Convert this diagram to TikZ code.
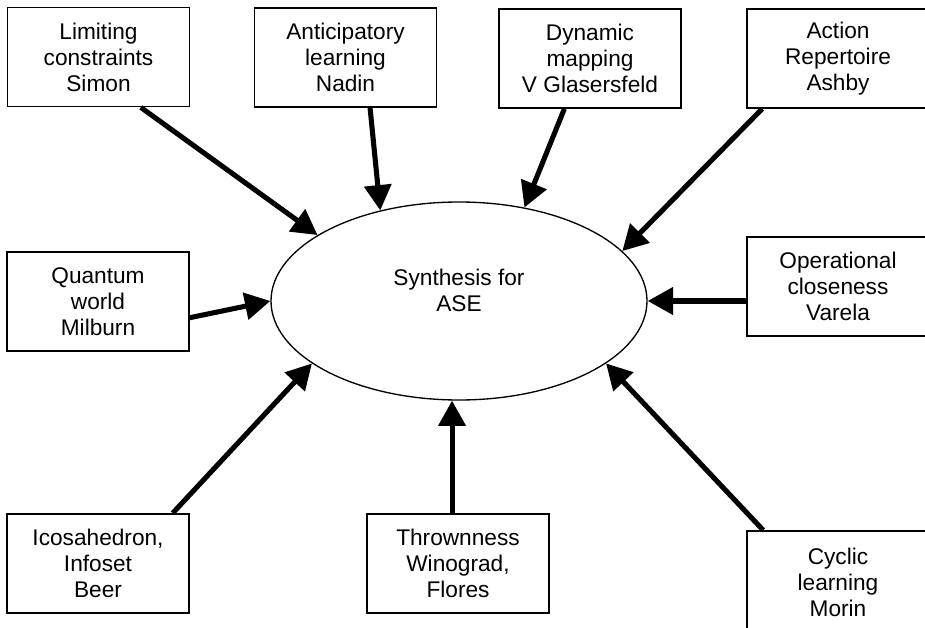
\documentclass[tikz,border=0pt]{standalone}
\usepackage{fontspec}
\setmainfont{Liberation Sans}
\usetikzlibrary{arrows.meta,shapes.geometric}

\begin{document}
\begin{tikzpicture}[x=0.75pt,y=0.75pt,yscale=-1,xscale=1,
    box/.style={draw,line width=1.3pt,minimum width=136.5pt,minimum height=74.25pt,inner sep=0.75pt,align=center,font=\fontsize{17}{19.5}\selectfont},
    feed/.style={line width=3.8pt,-{Triangle[length=19pt,width=20pt]}}]
    \clip (0,0) rectangle (925,628);

    %Shape: Ellipse [id:synth]
    \node [draw,ellipse,line width=1pt,inner sep=0pt,minimum width=282pt,minimum height=148.5pt] (synth) at (459,301) {};
    % Text Node
    \node [align=center,inner sep=0.75pt,font=\fontsize{17}{19.5}\selectfont] (synthtext) at (459,290) {Synthesis for\\ASE};

    %Shape: Rectangle [id:simon]
    \node [box] (simon) at (98.5,57) {Limiting\\constraints\\Simon};
    %Shape: Rectangle [id:nadin]
    \node [box] (nadin) at (345.5,57.5) {Anticipatory\\learning\\Nadin};
    %Shape: Rectangle [id:glasersfeld]
    \node [box] (glasersfeld) at (590,58.5) {Dynamic\\mapping\\V Glasersfeld};
    %Shape: Rectangle [id:ashby]
    \node [box] (ashby) at (838,58.5) {Action\\Repertoire\\Ashby};
    %Shape: Rectangle [id:milburn]
    \node [box] (milburn) at (98,301.5) {Quantum\\world\\Milburn};
    %Shape: Rectangle [id:varela]
    \node [box] (varela) at (838,286.5) {Operational\\closeness\\Varela};
    %Shape: Rectangle [id:beer]
    \node [box] (beer) at (98,563.5) {Icosahedron,\\Infoset\\Beer};
    %Shape: Rectangle [id:winograd]
    \node [box] (winograd) at (458,563.5) {Thrownness\\Winograd,\\Flores};
    %Shape: Rectangle [id:morin]
    \node [box,minimum height=76.5pt] (morin) at (838,582) {Cyclic\\learning\\Morin};

    %Straight Lines with arrows
    \draw [feed] (simon.-50) -- (synth.155);
    \draw [feed] (nadin.-64) -- (synth.131);
    \draw [feed] (glasersfeld.243) -- (synth.55);
    \draw [feed] ([xshift=12pt]ashby.south west) -- (synth.17);
    \draw [feed] (milburn.-10) -- (synth.west);
    \draw [feed] (varela.west |- synth.east) -- (synth.east);
    \draw [feed] (beer.34) -- (synth.203);
    \draw [feed] (winograd.north -| synth.266) -- (synth.266);
    \draw [feed] ([xshift=12.75pt]morin.north west) -- (synth.337);

\end{tikzpicture}
\end{document}
